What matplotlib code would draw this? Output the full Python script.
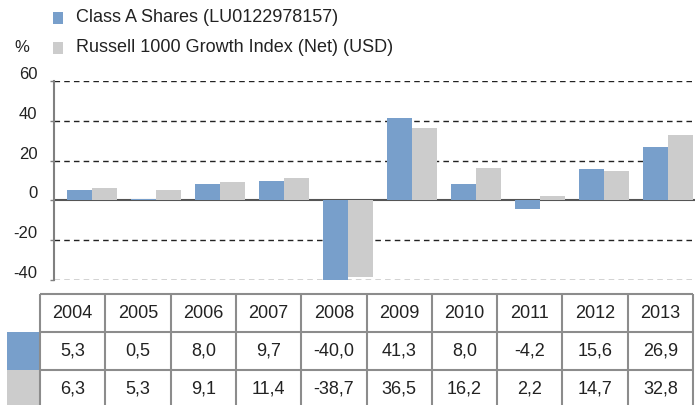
import numpy as np
import matplotlib.pyplot as plt
import matplotlib.transforms as mtransforms
from matplotlib.patches import Rectangle

plt.rcParams['font.family'] = ['Liberation Sans', 'DejaVu Sans']
plt.rcParams['axes.unicode_minus'] = False

years = ['2004', '2005', '2006', '2007', '2008', '2009', '2010', '2011', '2012', '2013']
class_a = [5.3, 0.5, 8.0, 9.7, -40.0, 41.3, 8.0, -4.2, 15.6, 26.9]
russell = [6.3, 5.3, 9.1, 11.4, -38.7, 36.5, 16.2, 2.2, 14.7, 32.8]
series_names = ['Class A Shares (LU0122978157)', 'Russell 1000 Growth Index (Net) (USD)']
colors = ['#789FCB', '#CCCCCC']

W, H = 697, 405
fig = plt.figure(figsize=(W / 100, H / 100), dpi=100)


def px_axes(x0, y0, x1, y1):
    # axes placed by pixel box (top-left origin)
    return fig.add_axes([x0 / W, 1 - y1 / H, (x1 - x0) / W, (y1 - y0) / H])


# --- bar chart ---
ax = px_axes(54, 81, 695, 280)
x = np.arange(len(years))
bw = 0.39
ax.bar(x - bw / 2, class_a, bw, color=colors[0], zorder=3)
ax.bar(x + bw / 2, russell, bw, color=colors[1], zorder=3)
ax.set_xlim(-0.594, 9.42)
ax.set_ylim(-40, 60)
ax.set_yticks(range(-40, 61, 20))
for t in [-40, -20, 20, 40, 60]:
    ax.axhline(t, color='#222222', lw=1, ls=(0, (4, 3)), zorder=2)
ax.axhline(0, color='#555555', lw=1.5, zorder=2)
for s in ['top', 'right', 'bottom']:
    ax.spines[s].set_visible(False)
ax.spines['left'].set_color('#808080')
ax.spines['left'].set_linewidth(1.5)
ax.set_xticks([])
ax.tick_params(axis='y', length=3, width=1, color='#808080', labelsize=12, pad=9,
               labelcolor='#222222')
# labels sit a little above their gridlines in the original
shift = mtransforms.ScaledTranslation(0, 8 / 100, fig.dpi_scale_trans)
for lab in ax.get_yticklabels():
    lab.set_transform(lab.get_transform() + shift)

fig.text(22 / W, 1 - 47 / H, '%', fontsize=12, ha='center', va='center', color='#222222')

# --- legend ---
for i, (name, c) in enumerate(zip(series_names, colors)):
    yc = 18 + 30 * i
    fig.add_artist(Rectangle((53 / W, 1 - (yc + 6) / H), 10 / W, 12 / H,
                             transform=fig.transFigure, color=c, lw=0))
    fig.text(76 / W, 1 - yc / H, name, fontsize=13, ha='left', va='center', color='#222222')

# --- table ---
tab = px_axes(0, 290, W, H)
tab.set_xlim(0, W)
tab.set_ylim(H, 290)
tab.axis('off')
x0, x1 = 40, 693
cw = (x1 - x0) / len(years)
rows = [294, 332, 370, 408]
lc = '#8c8c8c'
tab.add_patch(Rectangle((7, rows[1]), 32, rows[2] - rows[1], color=colors[0], lw=0))
tab.add_patch(Rectangle((7, rows[2]), 32, rows[3] - rows[2], color=colors[1], lw=0))
for r in rows[:3]:
    tab.plot([x0, x1], [r, r], color=lc, lw=1.5, solid_capstyle='butt')
for k in range(len(years) + 1):
    tab.plot([x0 + k * cw] * 2, [rows[0], rows[3]], color=lc, lw=1.5, solid_capstyle='butt')

fmt = lambda v: f'{v:.1f}'.replace('.', ',')
for k in range(len(years)):
    xc = x0 + (k + 0.5) * cw
    tab.text(xc, (rows[0] + rows[1]) / 2, years[k], fontsize=13, ha='center', va='center', color='#222222')
    tab.text(xc, (rows[1] + rows[2]) / 2, fmt(class_a[k]), fontsize=13, ha='center', va='center', color='#222222')
    tab.text(xc, (rows[2] + 405) / 2 + 1, fmt(russell[k]), fontsize=13, ha='center', va='center', color='#222222')

fig.savefig('out.png', dpi=100)
